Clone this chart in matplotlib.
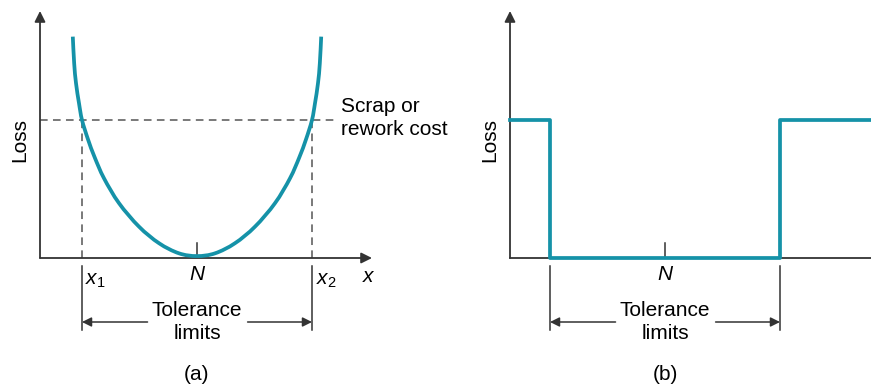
import matplotlib
matplotlib.use("Agg")
import matplotlib.pyplot as plt
from matplotlib.path import Path
from matplotlib.patches import PathPatch

plt.rcParams['font.family'] = ['Liberation Sans', 'DejaVu Sans']
plt.rcParams['mathtext.fontset'] = 'custom'
plt.rcParams['mathtext.it'] = 'Liberation Sans:italic'
plt.rcParams['mathtext.rm'] = 'Liberation Sans'

# deviation from target N (tolerance half-width = 1) and loss (scrap cost = 1)
dev_half = [0.0, 0.157, 0.33, 0.504, 0.678, 0.809, 0.89, 0.948, 1.0,
            1.026, 1.052, 1.068, 1.08]
loss_half = [0.014, 0.034, 0.107, 0.227, 0.397, 0.578, 0.73, 0.86, 1.0,
             1.121, 1.266, 1.41, 1.604]
quad_dev = [-d for d in reversed(dev_half)] + dev_half[1:]
quad_loss = list(reversed(loss_half)) + loss_half[1:]

step_dev = [-1.35, -1.0, -1.0, 1.0, 1.0, 1.8]
step_loss = [1.0, 1.0, 0.0, 0.0, 1.0, 1.0]

tol_limits = [-1.0, 1.0]
scrap_cost = 1.0

TEAL = '#1592a8'
AXC = '#333333'
FS = 15
W, H = 871, 384
PX_X, PX_Y = 115.0, 138.0   # pixels per unit
Y0 = 258                    # x-axis pixel row


def smooth_path(xs, ys):
    # Catmull-Rom through the points, drawn as cubic Bezier segments
    pts = list(zip(xs, ys))
    verts = [pts[0]]
    codes = [Path.MOVETO]
    n = len(pts)
    for i in range(n - 1):
        p0 = pts[max(i - 1, 0)]
        p1 = pts[i]
        p2 = pts[i + 1]
        p3 = pts[min(i + 2, n - 1)]
        c1 = (p1[0] + (p2[0] - p0[0]) / 6, p1[1] + (p2[1] - p0[1]) / 6)
        c2 = (p2[0] - (p3[0] - p1[0]) / 6, p2[1] - (p3[1] - p1[1]) / 6)
        verts += [c1, c2, p2]
        codes += [Path.CURVE4] * 3
    return Path(verts, codes)


def add_panel(fig, left_px, right_px, n_px):
    ax = fig.add_axes([left_px / W, (H - Y0) / H,
                       (right_px - left_px) / W, (Y0 - 11) / H])
    ax.set_xlim((left_px - n_px) / PX_X, (right_px - n_px) / PX_X)
    ax.set_ylim(0, (Y0 - 11) / PX_Y)
    ax.axis('off')
    return ax


def py(p):
    return (Y0 - p) / PX_Y


def common(ax, label, xarrow=True):
    xmin, xmax = ax.get_xlim()
    ymax = ax.get_ylim()[1]
    arr = dict(arrowstyle='-|>', color=AXC, lw=1.3, mutation_scale=16,
               shrinkA=0, shrinkB=0)
    ax.annotate('', xy=(xmin, ymax), xytext=(xmin, 0), arrowprops=arr,
                annotation_clip=False)
    if xarrow:
        ax.annotate('', xy=(xmax, 0), xytext=(xmin, 0), arrowprops=arr,
                    annotation_clip=False)
    else:
        ax.plot([xmin, xmax], [0, 0], color=AXC, lw=1.3, clip_on=False)
    # N tick and label
    ax.plot([0, 0], [0, 0.11], color=AXC, lw=1.1)
    ax.text(0, py(275), 'N', style='italic', fontsize=FS, ha='center',
            va='center')
    # tolerance limits
    for t in tol_limits:
        ax.plot([t, t], [py(266), py(330)], color=AXC, lw=1.1, clip_on=False)
    ax.text(0, py(322), 'Tolerance\nlimits', fontsize=FS, ha='center',
            va='center', linespacing=1.3)
    tarr = dict(arrowstyle='-|>', color=AXC, lw=1.1, mutation_scale=14,
                shrinkA=0, shrinkB=0)
    ax.annotate('', xy=(tol_limits[0], py(322)), xytext=(-0.43, py(322)),
                arrowprops=tarr, annotation_clip=False)
    ax.annotate('', xy=(tol_limits[1], py(322)), xytext=(0.44, py(322)),
                arrowprops=tarr, annotation_clip=False)
    ax.text(xmin - 20 / PX_X, py(140), 'Loss', fontsize=FS, rotation=90,
            ha='center', va='center')
    ax.text(0, py(375), label, fontsize=FS, ha='center', va='center')


fig = plt.figure(figsize=(W / 100, H / 100), dpi=100)

# (a) quadratic loss
ax1 = add_panel(fig, 40, 372, 197)
xmin = ax1.get_xlim()[0]
ax1.plot([xmin, 1.22], [scrap_cost, scrap_cost], color='#555555', lw=1.1,
         ls=(0, (5, 3.5)), clip_on=False)
for t in tol_limits:
    ax1.plot([t, t], [0, scrap_cost], color='#555555', lw=1.1,
             ls=(0, (5, 3.5)))
ax1.add_patch(PathPatch(smooth_path(quad_dev, quad_loss), fill=False,
                        edgecolor=TEAL, lw=2.7, capstyle='butt', zorder=5))
common(ax1, '(a)')
ax1.text(-1.0 + 3 / PX_X, py(281), '$x_1$', fontsize=FS, ha='left',
         va='center')
ax1.text(1.0 + 4 / PX_X, py(281), '$x_2$', fontsize=FS, ha='left',
         va='center')
ax1.text((368 - 197) / PX_X, py(277), 'x', style='italic', fontsize=FS,
         ha='center', va='center')
ax1.text(1.25, py(118), 'Scrap or\nrework cost', fontsize=FS,
         ha='left', va='center', linespacing=1.3)

# (b) step loss
ax2 = add_panel(fig, 510, 871, 665)
ax2.plot(step_dev, step_loss, color=TEAL, lw=2.7, clip_on=False, zorder=5)
common(ax2, '(b)', xarrow=False)

fig.savefig('out.png', dpi=100)
